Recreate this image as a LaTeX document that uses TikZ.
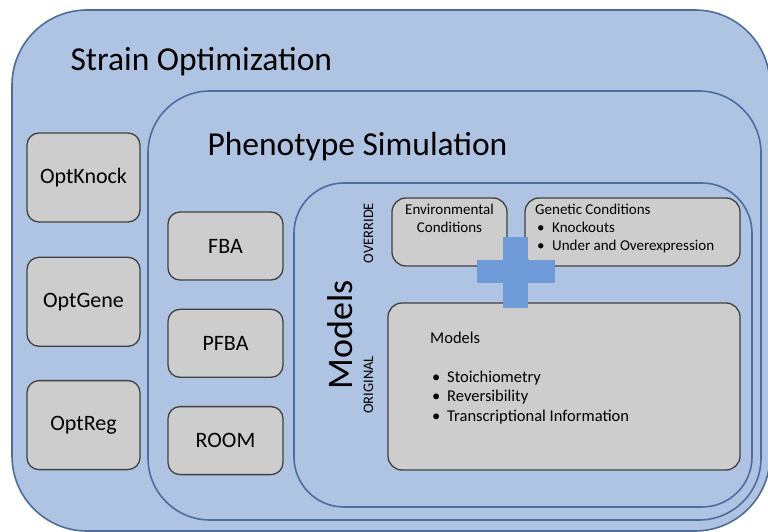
\documentclass[tikz,border=0pt]{standalone}
\usepackage{fontspec}
\setmainfont{Carlito}
\usetikzlibrary{positioning}

\definecolor{fillblue}{RGB}{175,195,226}
\definecolor{frameblue}{RGB}{78,108,160}
\definecolor{boxgrey}{RGB}{205,205,205}
\definecolor{boxedge}{RGB}{65,65,65}
\definecolor{crossblue}{RGB}{110,155,215}

\newcommand{\bul}{\makebox[15pt][l]{\textbullet}}

\begin{document}
\begin{tikzpicture}[
    x=1pt, y=-1pt,
    container/.style={draw=frameblue, line width=1.6pt, fill=fillblue, inner sep=0pt},
    method/.style={draw=boxedge, line width=1.3pt, fill=boxgrey, rounded corners=12pt,
        minimum width=113pt, minimum height=89pt, font=\fontsize{22}{26}\selectfont},
    simmethod/.style={method, minimum width=115pt, minimum height=68pt},
    infobox/.style={draw=boxedge, line width=1.3pt, fill=boxgrey, rounded corners=14pt},
    title/.style={anchor=base west, font=\fontsize{33.5}{38}\selectfont},
    tag/.style={rotate=90, anchor=base, font=\fontsize{14.5}{16}\selectfont},
    detail/.style={align=left, font=\fontsize{15}{18}\selectfont, inner sep=0pt}
]
    \useasboundingbox (0,0) rectangle (768,532);
    \fill[white] (0,0) rectangle (768,532);
    \clip (0,0) rectangle (768,532);

    % nested containers
    \node[container, minimum width=758pt, minimum height=521pt, rounded corners=75pt] (strain) at (391,270.5) {};
    \node[container, minimum width=613pt, minimum height=429pt, rounded corners=62pt] (pheno) at (454.5,305.5) {};
    \node[container, minimum width=458pt, minimum height=324pt, rounded corners=50pt] (models) at (523,345) {};

    \node[title] (straintitle) at (67,71) {Strain Optimization};
    \node[title] (phenotitle) at (204,155) {Phenotype Simulation};

    % optimization methods
    \node[method] (optknock) at (83.5,177.5) {OptKnock};
    \node[method, below=34pt of optknock] (optgene) {OptGene};
    \node[method, below=33pt of optgene] (optreg) {OptReg};

    % simulation methods
    \node[simmethod] (fba) at (225.5,246) {FBA};
    \node[simmethod, below=28pt of fba] (pfba) {PFBA};
    \node[simmethod, below=28pt of pfba] (room) {ROOM};

    % model layers
    \node[rotate=90, anchor=base, font=\fontsize{36}{40}\selectfont] (modelslabel) at (352,335) {Models};
    \node[tag] (override) at (373,233) {OVERRIDE};
    \node[tag] (original) at (373,385) {ORIGINAL};

    \node[infobox, minimum width=115pt, minimum height=68pt] (envbox) at (449.5,232) {};
    \node[detail, align=center, anchor=north] (envtext) at (449.5,204) {Environmental\\Conditions};

    \node[infobox, minimum width=215pt, minimum height=68pt] (genbox) at (632.5,232) {};
    \node[detail, anchor=north west] (gentext) at (535,204)
        {Genetic Conditions\\\hspace*{2pt}\bul Knockouts\\\hspace*{2pt}\bul Under and Overexpression};

    \node[infobox, minimum width=352pt, minimum height=167pt] (modelbox) at (564,386.5) {};
    \node[detail, anchor=north west, font=\fontsize{16.5}{19.5}\selectfont] (modeltext) at (430,332)
        {Models\\[19pt]\hspace*{2pt}\bul Stoichiometry\\\hspace*{2pt}\bul Reversibility\\\hspace*{2pt}\bul Transcriptional Information};

    % plus sign
    \fill[crossblue] (503,237) rectangle (528,308);
    \fill[crossblue] (477,260) rectangle (555,283);
\end{tikzpicture}
\end{document}
